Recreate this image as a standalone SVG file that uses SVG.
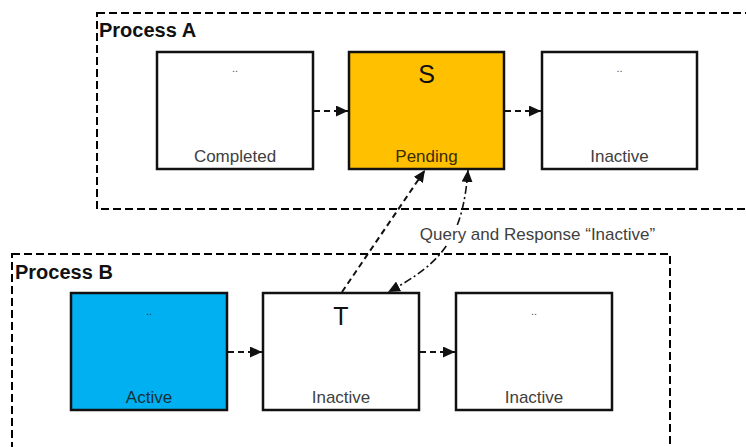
<svg xmlns="http://www.w3.org/2000/svg" width="746" height="447" viewBox="0 0 746 447">
<style>
.grp{fill:none;stroke:#000;stroke-width:2;stroke-dasharray:8 4}
.title{font-family:"Liberation Sans",Arial,sans-serif;font-size:20px;font-weight:bold;fill:#111}
.box{stroke:#111;stroke-width:2.5}
.lbl{font-family:"Liberation Sans",Arial,sans-serif;font-size:17px;fill:#404040;text-anchor:middle}
.big{font-family:"Liberation Sans",Arial,sans-serif;font-size:25px;fill:#111;text-anchor:middle}
.dots{font-family:"Liberation Sans",Arial,sans-serif;font-size:11px;fill:#555;text-anchor:middle}
.dash{fill:none;stroke:#111;stroke-width:2;stroke-dasharray:6 4}
.dashdot{fill:none;stroke:#111;stroke-width:1.6;stroke-dasharray:8 3 2 3}
</style>
<defs>
<marker id="ah" markerUnits="userSpaceOnUse" markerWidth="12" markerHeight="11" refX="12" refY="5.5" orient="auto-start-reverse">
<path d="M0,0 L12,5.5 L0,11 z" fill="#111"/>
</marker>
</defs>
<rect width="746" height="447" fill="#fff"/>
<g id="processA">
<rect class="grp" x="97" y="13" width="670" height="196"/>
<text class="title" x="99" y="37">Process A</text>
</g>
<g id="processB">
<rect class="grp" x="12" y="254" width="658" height="220"/>
<text class="title" x="15" y="279">Process B</text>
</g>
<g id="completed">
<rect class="box" x="157" y="52" width="156" height="117" fill="#fff"/>
<text class="dots" x="235" y="72">..</text>
<text class="lbl" x="235" y="162">Completed</text>
</g>
<g id="pending">
<rect class="box" x="349" y="52" width="155" height="117" fill="#FFC000"/>
<text class="big" x="426.5" y="83">S</text>
<text class="lbl" x="426.5" y="162" style="fill:#3a2c00">Pending</text>
</g>
<g id="inactiveA">
<rect class="box" x="542" y="52" width="155" height="117" fill="#fff"/>
<text class="dots" x="619.5" y="72">..</text>
<text class="lbl" x="619.5" y="162">Inactive</text>
</g>
<g id="active">
<rect class="box" x="71" y="293" width="156" height="117" fill="#00B0F0"/>
<text class="dots" x="149" y="315" style="fill:#333">..</text>
<text class="lbl" x="149" y="403" style="fill:#10303a">Active</text>
</g>
<g id="t">
<rect class="box" x="263" y="293" width="156" height="117" fill="#fff"/>
<text class="big" x="341" y="325">T</text>
<text class="lbl" x="341" y="403">Inactive</text>
</g>
<g id="inactiveB">
<rect class="box" x="456" y="293" width="156" height="117" fill="#fff"/>
<text class="dots" x="534" y="315">..</text>
<text class="lbl" x="534" y="403">Inactive</text>
</g>
<g id="connectors">
<line class="dash" x1="314" y1="111" x2="348" y2="111" marker-end="url(#ah)"/>
<line class="dash" x1="505" y1="111" x2="541" y2="111" marker-end="url(#ah)"/>
<line class="dash" x1="228" y1="352" x2="262" y2="352" marker-end="url(#ah)"/>
<line class="dash" x1="420" y1="352" x2="455" y2="352" marker-end="url(#ah)"/>
<line class="dash" x1="342" y1="292" x2="425" y2="170" marker-end="url(#ah)"/>
<path class="dashdot" d="M468,170 C463,235 445,262 388,292" marker-start="url(#ah)" marker-end="url(#ah)"/>
<rect x="414" y="225" width="248" height="20" fill="#fff"/>
<text class="lbl" x="537.5" y="240">Query and Response “Inactive”</text>
</g>
</svg>
